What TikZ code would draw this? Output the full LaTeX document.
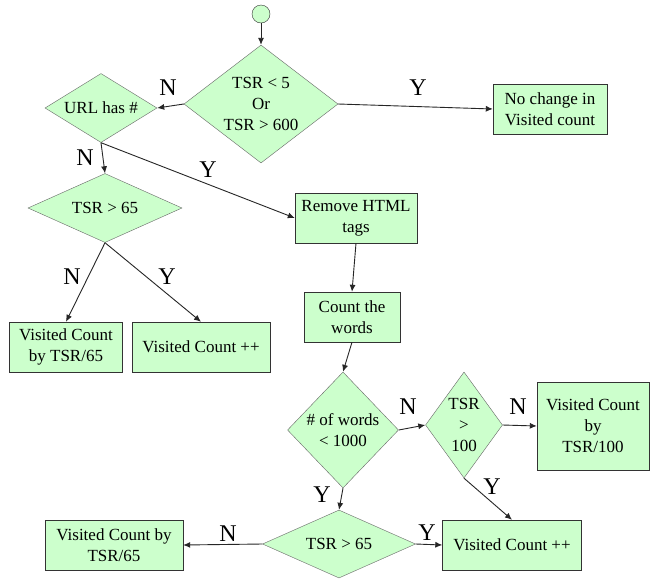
\documentclass[tikz,border=0pt]{standalone}
\usepackage{fontspec}
\setmainfont{Liberation Serif}
\usetikzlibrary{shapes.geometric, arrows.meta}

\definecolor{boxgreen}{HTML}{CCFFCC}

\tikzset{
  box/.style={draw=black!80, fill=boxgreen, inner sep=0pt, align=center,
    font=\fontsize{17}{21}\selectfont},
  decision/.style={diamond, draw=black!60, fill=boxgreen, inner sep=0pt, align=center,
    font=\fontsize{17}{21}\selectfont},
  arr/.style={draw=black!85, line width=0.9pt, -{Latex[length=7pt, width=6pt]}},
  lbl/.style={font=\fontsize{24}{24}\selectfont}
}

\begin{document}
\begin{tikzpicture}[x=1pt, y=-1pt]
\useasboundingbox[fill=white] (0,0) rectangle (653,579);

% Start
\node[circle, draw=black!80, fill=boxgreen, minimum size=18pt, inner sep=0pt] (start) at (261,14) {};

% Decisions
\node[decision, minimum width=154pt, minimum height=118pt, aspect=1.3] (tsrrange) at (261,104) {TSR < 5\\Or\\TSR > 600};
\node[decision, minimum width=112pt, minimum height=69pt, aspect=1.62] (urlhash) at (101,108) {URL has \#};
\node[decision, minimum width=154pt, minimum height=69pt, aspect=2.2] (tsrtop) at (105,208) {TSR > 65};
\node[decision, minimum width=111pt, minimum height=116pt, aspect=0.96] (words) at (343,430) {\# of words\\< 1000};
\node[decision, minimum width=77pt, minimum height=106pt, aspect=0.73] (tsrhund) at (464,425) {TSR\\>\\100};
\node[decision, minimum width=153pt, minimum height=68pt, aspect=2.2] (tsrbot) at (339,544) {TSR > 65};

% Boxes
\node[box, minimum width=114pt, minimum height=50pt] (nochange) at (550,109) {No change in\\Visited count};
\node[box, minimum width=122pt, minimum height=50pt] (strip) at (356,218) {Remove HTML\\tags};
\node[box, minimum width=96pt, minimum height=50pt] (count) at (352,317) {Count the\\words};
\node[box, minimum width=113pt, minimum height=50pt] (bytopa) at (66,347) {Visited Count\\by TSR/65};
\node[box, minimum width=138pt, minimum height=50pt] (inctop) at (201,347) {Visited Count ++};
\node[box, minimum width=112pt, minimum height=88pt] (byhund) at (593,426) {Visited Count\\by\\TSR/100};
\node[box, minimum width=138pt, minimum height=50pt] (bybot) at (114,545) {Visited Count by\\TSR/65};
\node[box, minimum width=139pt, minimum height=50pt] (incbot) at (512,545) {Visited Count ++};

% Connectors
\draw[arr] (start) -- (tsrrange.north);
\draw[arr] (tsrrange.west) -- (urlhash.east);
\draw[arr] (tsrrange.east) -- (nochange.west);
\draw[arr] (urlhash.south) -- (tsrtop.north);
\draw[arr] (urlhash.south) -- (strip.west);
\draw[arr] (tsrtop.south) -- (bytopa.north);
\draw[arr] (tsrtop.south) -- (inctop.north);
\draw[arr] (strip.south) -- (count.north);
\draw[arr] (count.south) -- (words.north);
\draw[arr] (words.east) -- (tsrhund.west);
\draw[arr] (tsrhund.east) -- (byhund.west);
\draw[arr] (tsrhund.south) -- (incbot.north);
\draw[arr] (words.south) -- (tsrbot.north);
\draw[arr] (tsrbot.west) -- (bybot.east);
\draw[arr] (tsrbot.east) -- (incbot.west);

% Labels
\node[lbl] (n1) at (168,88) {N};
\node[lbl] (y1) at (418,88) {Y};
\node[lbl] (n2) at (85,158) {N};
\node[lbl] (y2) at (208,170) {Y};
\node[lbl] (n3) at (72,277) {N};
\node[lbl] (y3) at (167,277) {Y};
\node[lbl] (n4) at (408,407) {N};
\node[lbl] (n5) at (518,407) {N};
\node[lbl] (y4) at (322,495) {Y};
\node[lbl] (y5) at (492,487) {Y};
\node[lbl] (n6) at (228,534) {N};
\node[lbl] (y6) at (427,533) {Y};
\end{tikzpicture}
\end{document}
